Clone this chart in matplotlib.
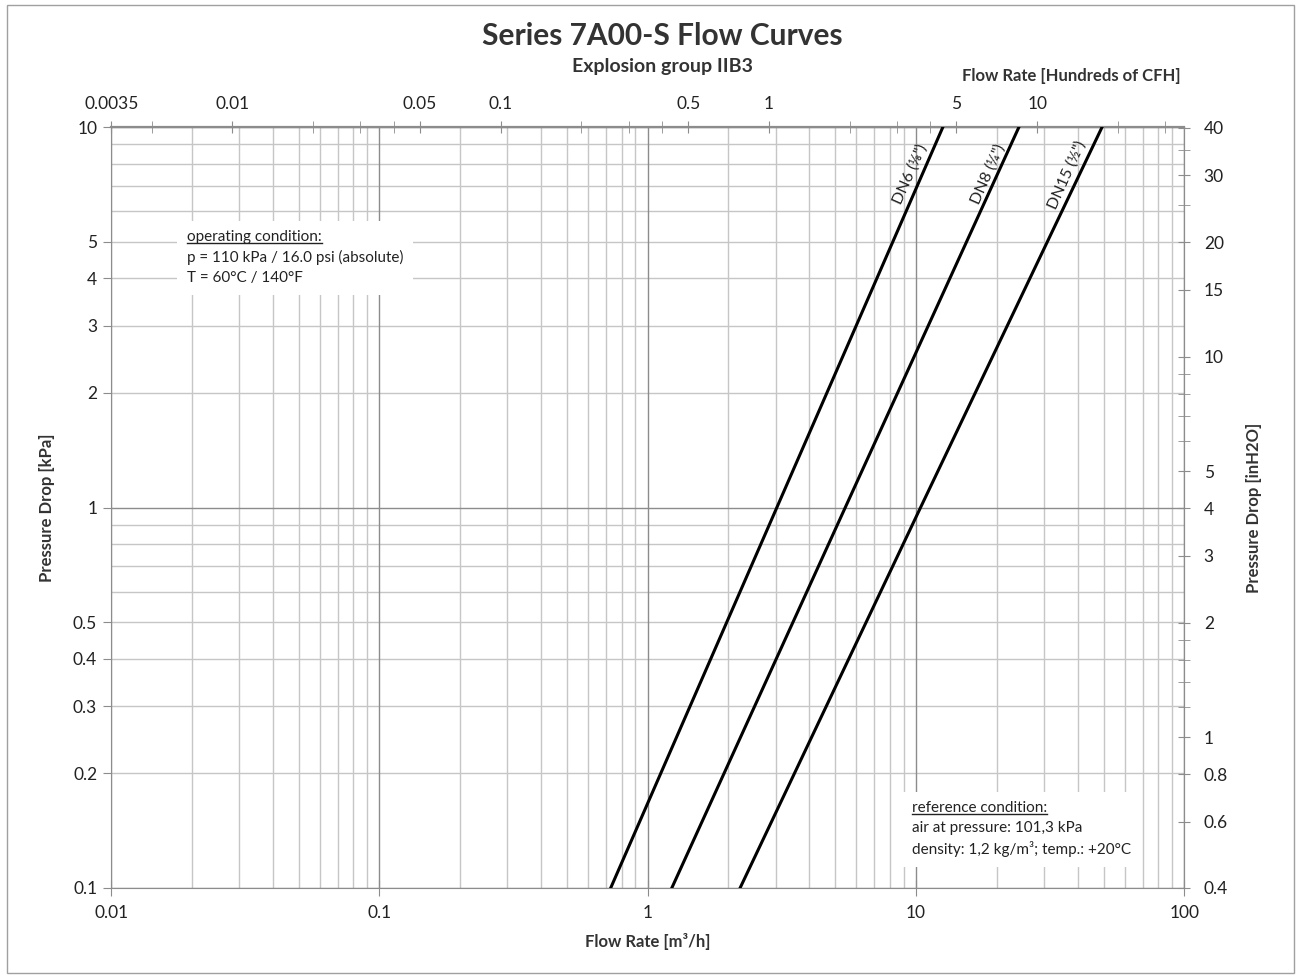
import numpy as np
import matplotlib
matplotlib.use("Agg")
import matplotlib.pyplot as plt
from matplotlib.ticker import FixedLocator, NullFormatter, FixedFormatter
from matplotlib.patches import Rectangle
from matplotlib.lines import Line2D

plt.rcParams['font.family'] = ['Lato', 'DejaVu Sans']

# =========================
# data
# =========================
pressure_kpa = [0.1, 1.0, 10.0]
dn6_flow = [0.728, 3.03, 12.6]
dn8_flow = [1.23, 5.45, 24.2]
dn15_flow = [2.21, 10.4, 49.4]
curve_names = ['DN6 (⅛")', 'DN8 (¼")', 'DN15 (½")']

left_ticks = [0.1, 0.2, 0.3, 0.4, 0.5, 1, 2, 3, 4, 5, 10]
left_labels = ["0.1", "0.2", "0.3", "0.4", "0.5", "1", "2", "3", "4", "5", "10"]
bottom_ticks = [0.01, 0.1, 1, 10, 100]
bottom_labels = ["0.01", "0.1", "1", "10", "100"]

# first tick sits on the axis edge (0.01 m3/h = 0.00353 hundreds CFH)
top_ticks = [0.00354, 0.01, 0.05, 0.1, 0.5, 1, 5, 10]
top_labels = ["0.0035", "0.01", "0.05", "0.1", "0.5", "1", "5", "10"]
top_minor = [0.005, 0.02, 0.03, 0.04, 0.2, 0.3, 0.4, 2, 3, 4, 20, 30]

# last tick sits on the axis edge (0.1 kPa = 0.402 inH2O)
right_ticks = [0.402, 0.6, 0.8, 1, 2, 3, 4, 5, 10, 15, 20, 30, 40]
right_labels = ["0.4", "0.6", "0.8", "1", "2", "3", "4", "5", "10", "15", "20", "30", "40"]
right_minor = [1.2, 1.4, 1.6, 1.8, 6, 7, 8, 9, 25, 35]

M3H_TO_HCFH = 0.353147
KPA_TO_INH2O = 4.01865

TXT = "#222222"
LAB = "#333333"
FS = 12.5

# =========================
# figure
# =========================
fig = plt.figure(figsize=(12.96, 9.77), dpi=100)
fig.patches.append(Rectangle((0.0055, 0.004), 0.993, 0.991, transform=fig.transFigure,
                             fill=False, edgecolor="#a0a0a0", linewidth=1.0))
ax = fig.add_axes([0.0857, 0.0911, 0.8281, 0.7789])

ax.set_xscale("log")
ax.set_yscale("log")
ax.set_xlim(0.01, 100)
ax.set_ylim(0.1, 10)

# grid
minor_x = [m * 10.0 ** e for e in range(-2, 2) for m in range(2, 10)]
minor_y = [m * 10.0 ** e for e in range(-1, 1) for m in range(2, 10)]
for v in minor_x:
    ax.axvline(v, color="#c6c6c6", lw=1.0, zorder=0)
for v in minor_y:
    ax.axhline(v, color="#c6c6c6", lw=1.0, zorder=0)
for v in bottom_ticks:
    ax.axvline(v, color="#8c8c8c", lw=1.0, zorder=0)
for v in [0.1, 1, 10]:
    ax.axhline(v, color="#8c8c8c", lw=1.0, zorder=0)

# curves
for flow in [dn6_flow, dn8_flow, dn15_flow]:
    ax.plot(flow, pressure_kpa, color="black", lw=2.2, zorder=3)

label_pos = [(9.5, 7.5), (18.6, 7.5), (36.5, 7.5)]
for name, (lx, ly) in zip(curve_names, label_pos):
    ax.text(lx, ly, name, rotation=66, ha="center", va="center", fontsize=11.5,
            color=TXT, zorder=4)

# axes style
for s in ax.spines.values():
    s.set_color("#8c8c8c")
ax.xaxis.set_major_locator(FixedLocator(bottom_ticks))
ax.xaxis.set_major_formatter(FixedFormatter(bottom_labels))
ax.xaxis.set_minor_formatter(NullFormatter())
ax.xaxis.set_minor_locator(FixedLocator([]))
ax.yaxis.set_major_locator(FixedLocator(left_ticks))
ax.yaxis.set_major_formatter(FixedFormatter(left_labels))
ax.yaxis.set_minor_locator(FixedLocator([]))
ax.yaxis.set_minor_formatter(NullFormatter())
ax.tick_params(axis="x", which="major", direction="inout", length=12, color="#8c8c8c",
               labelsize=FS, pad=6, labelcolor=TXT)
ax.tick_params(axis="y", which="major", direction="out", length=6, color="#8c8c8c",
               labelsize=FS, pad=4, labelcolor=TXT)

# top axis: hundreds of CFH
top = ax.secondary_xaxis("top", functions=(lambda x: x * M3H_TO_HCFH, lambda x: x / M3H_TO_HCFH))
top.xaxis.set_major_locator(FixedLocator(top_ticks))
top.xaxis.set_major_formatter(FixedFormatter(top_labels))
top.xaxis.set_minor_locator(FixedLocator(top_minor))
top.xaxis.set_minor_formatter(NullFormatter())
top.tick_params(which="both", direction="inout", length=8, color="#8c8c8c",
                labelsize=FS, pad=7, labelcolor=TXT)
top.spines["top"].set_color("#8c8c8c")
top.spines["top"].set_linewidth(1.6)

# right axis: inH2O
right = ax.secondary_yaxis("right", functions=(lambda y: y * KPA_TO_INH2O, lambda y: y / KPA_TO_INH2O))
right.yaxis.set_major_locator(FixedLocator(right_ticks))
right.yaxis.set_major_formatter(FixedFormatter(right_labels))
right.yaxis.set_minor_locator(FixedLocator(right_minor))
right.yaxis.set_minor_formatter(NullFormatter())
right.tick_params(which="both", direction="inout", length=8, color="#8c8c8c",
                  labelsize=FS, pad=10, labelcolor=TXT)
right.spines["right"].set_color("#8c8c8c")

# labels
ax.set_xlabel("Flow Rate [m³/h]", fontsize=12, fontweight="bold", color=LAB, labelpad=9)
ax.set_ylabel("Pressure Drop [kPa]", fontsize=12, fontweight="bold", color=LAB, labelpad=13)
right.set_ylabel("Pressure Drop [inH2O]", fontsize=12, fontweight="bold", color=LAB, labelpad=13)
fig.text(0.511, 0.963, "Series 7A00-S Flow Curves", ha="center", va="center",
         fontsize=21.5, fontweight="bold", color=LAB)
fig.text(0.511, 0.932, "Explosion group IIB3", ha="center", va="center",
         fontsize=14, fontweight="bold", color=LAB)
fig.text(0.911, 0.922, "Flow Rate [Hundreds of CFH]", ha="right", va="center",
         fontsize=12, fontweight="bold", color=LAB)

# condition boxes (heading underlined by hand)
box = dict(facecolor="white", edgecolor="none", pad=7)
notes = [
    (0.0192, 5.35, "operating condition:", ["p = 110 kPa / 16.0 psi (absolute)", "T = 60°C / 140°F"]),
    (9.67, 0.169, "reference condition:", ["air at pressure: 101,3 kPa", "density: 1,2 kg/m³; temp.: +20°C"]),
]
heads = []
for nx, ny, head, lines in notes:
    ax.text(nx, ny, "\n".join([head] + lines), fontsize=11, color=TXT, va="top",
            ha="left", linespacing=1.5, bbox=box, zorder=5)
    h = ax.text(nx, ny, head, fontsize=11, color=TXT, va="top", ha="left",
                alpha=0.0, zorder=6)
    heads.append(h)

fig.canvas.draw()
for h in heads:
    bb = h.get_window_extent()
    yline = bb.y0 + 1
    fig.add_artist(Line2D([bb.x0, bb.x1], [yline, yline], transform=None,
                          color=TXT, lw=1.0, zorder=7))

fig.savefig("out.png", dpi=100)
